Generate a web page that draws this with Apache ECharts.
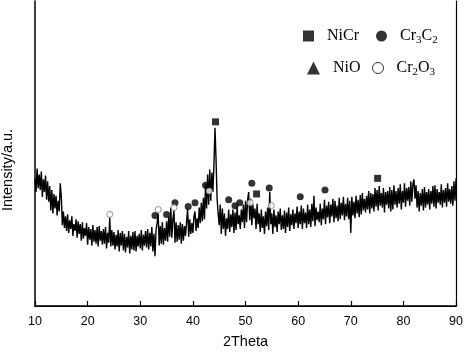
<!DOCTYPE html>
<html>
<head>
<meta charset="utf-8">
<script src="https://cdn.jsdelivr.net/npm/echarts@6/dist/echarts.min.js"></script>
<style>
  html, body { margin: 0; padding: 0; background: #fff; }
  #xrd { width: 466px; height: 354px; }
</style>
</head>
<body>
<div id="xrd"></div>
<script>
    // XRD scan, 2Theta from 10 to 90 in 0.2 deg steps (a.u.)
    var scanStart = 10;
    var scanStep = 0.2;
    var intensity = [
        131, 117, 141, 121, 135,   119, 138, 112, 130, 117,   // 10-11
        134, 109, 128, 107, 123,   98, 119, 95, 115, 100,     // 12-13
        113, 93, 108, 97, 126,     112, 83, 97, 80, 92,       // 14-15
        77, 94, 75, 88, 79,        92, 72, 84, 77, 89,        // 16-17
        70, 87, 74, 84, 67,        86, 69, 80, 72, 85,        // 18-19
        63, 81, 68, 79, 62,        83, 66, 78, 64, 81,        // 20-21
        61, 82, 67, 77, 63,        79, 64, 81, 59, 75,        // 22-23
        65, 91, 61, 78, 62,        76, 58, 73, 61, 78,        // 24-25
        56, 75, 62, 77, 57,        74, 55, 71, 60, 77,        // 26-27
        54, 72, 58, 76, 57,        77, 56, 72, 61, 74,        // 28-29
        59, 78, 57, 73, 62,        77, 60, 79, 58, 75,        // 30-31
        61, 81, 56, 74, 51,        78, 85, 95, 62, 82,        // 32-33
        64, 86, 63, 80, 67,        87, 66, 92, 71, 101,       // 34-35
        70, 89, 98, 65, 86,        66, 83, 68, 86, 64,        // 36-37
        84, 67, 82, 72, 86,        100, 71, 89, 74, 85,       // 38-39
        75, 92, 97, 77, 90,        80, 101, 85, 106, 87,      // 40-41
        111, 89, 125, 100, 135,    104, 140, 108, 137, 117,   // 42-43
        145, 183, 150, 110, 95,    83, 104, 74, 100, 79,      // 44-45
        95, 72, 90, 79, 99,        76, 94, 81, 99, 75,        // 46-47
        96, 78, 102, 84, 93,       79, 99, 86, 104, 80,       // 48-49
        108, 86, 109, 117, 88,     110, 83, 104, 90, 100,     // 50-51
        79, 105, 84, 95, 76,       99, 80, 92, 74, 97,        // 52-53
        82, 101, 78, 117, 84,      95, 74, 99, 81, 93,        // 54-55
        76, 97, 84, 100, 78,       93, 79, 98, 75, 96,        // 56-57
        81, 101, 77, 94, 83,       99, 79, 95, 85, 102,       // 58-59
        80, 97, 84, 103, 79,       100, 85, 96, 80, 104,      // 60-61
        84, 99, 81, 105, 87,       113, 82, 101, 88, 97,      // 62-63
        86, 105, 83, 100, 89,      109, 84, 103, 91, 107,     // 64-65
        85, 104, 92, 110, 86,      108, 90, 103, 87, 111,     // 66-67
        89, 106, 93, 112, 88,      105, 92, 111, 89, 108,     // 68-69
        75, 112, 93, 107, 90,      113, 95, 109, 91, 114,     // 70-71
        94, 116, 98, 110, 96,      113, 99, 118, 95, 116,     // 72-73
        100, 115, 97, 121, 102,    119, 98, 123, 103, 116,    // 74-75
        101, 121, 96, 117, 104,    118, 100, 122, 97, 119,    // 76-77
        99, 124, 104, 118, 101,    121, 105, 125, 99, 118,    // 78-79
        106, 126, 102, 121, 108,   122, 103, 128, 107, 125,   // 80-81
        130, 110, 124, 101, 118,   97, 116, 103, 120, 98,     // 82-83
        122, 101, 117, 104, 120,   99, 118, 105, 123, 102,    // 84-85
        124, 100, 120, 106, 117,   104, 125, 101, 119, 106,   // 86-87
        121, 102, 126, 107, 120,   105, 123, 103, 128, 108,   // 88-89
        131                                                   // 90
    ];

    // phase markers [2Theta, height]
    var nicrMarks = [[44.3, 189], [52.1, 115], [75.1, 131]];
    var cr3c2Marks = [[32.8, 93], [35.0, 94], [36.6, 106], [39.1, 102], [40.4, 106], [42.4, 124],
        [46.8, 109], [48.0, 103], [48.9, 106], [51.2, 126], [54.5, 121], [60.4, 112], [65.1, 119]];
    var nioMarks = [];
    var cr2o3Marks = [[24.2, 94], [33.4, 99], [36.4, 101], [43.1, 118], [50.9, 106], [54.9, 103]];

    var xMin = 10, xMax = 90, xStep = 10;

    var scan = [];
    for (var i = 0; i < intensity.length; i++) {
        scan.push([+(scanStart + i * scanStep).toFixed(2), intensity[i]]);
    }

    var legendText = {
        fontFamily: 'Liberation Serif',
        fontSize: 16,
        color: '#000',
        padding: [0, 0, 0, 8],
        rich: {
            sub: {fontFamily: 'Liberation Serif', fontSize: 11, color: '#000', padding: [9, 0, 0, 0]}
        }
    };
    function subs(name) {
        return name.replace(/(\d)/g, '{sub|$1}');
    }
    function oneLegend(name, left, top, size, style) {
        return {
            data: [{name: name, itemStyle: style || {color: '#000', borderColor: '#000'}}],
            left: left,
            top: top,
            itemWidth: size,
            itemHeight: size,
            padding: 0,
            selectedMode: false,
            formatter: subs,
            textStyle: legendText
        };
    }

    let myChart = echarts.init(document.getElementById('xrd'));
    myChart.setOption({
        animation: false,
        backgroundColor: '#fff',
        grid: {left: 35, right: 7, top: 1, bottom: 41},
        legend: [
            oneLegend('NiCr', 303, 28, 11),
            oneLegend('Cr3C2', 376, 28, 11),
            oneLegend('NiO', 307, 60, 13),
            oneLegend('Cr2O3', 372, 60, 11, {color: '#fff', borderColor: '#000', borderWidth: 1})
        ],
        graphic: [{
            type: 'text',
            x: 8,
            y: 170,
            rotation: Math.PI / 2,
            style: {
                text: 'Intensity/a.u.',
                fontFamily: 'Liberation Sans',
                fontSize: 14.5,
                fill: '#000',
                align: 'center',
                verticalAlign: 'middle'
            }
        }],
        xAxis: [{
            type: 'value',
            min: xMin,
            max: xMax,
            interval: xStep,
            name: '2Theta',
            nameLocation: 'middle',
            nameGap: 28,
            nameTextStyle: {fontFamily: 'Liberation Sans', fontSize: 14.5, color: '#000'},
            axisLine: {lineStyle: {color: '#000', width: 1.5}},
            axisTick: {inside: true, length: 5, lineStyle: {color: '#000', width: 1.2}},
            axisLabel: {fontFamily: 'Liberation Sans', fontSize: 12.5, color: '#000', margin: 9},
            splitLine: {show: false}
        }, {
            type: 'value',
            position: 'top',
            min: xMin,
            max: xMax,
            axisLine: {lineStyle: {color: '#000', width: 1.2}},
            axisTick: {show: false},
            axisLabel: {show: false},
            splitLine: {show: false}
        }],
        yAxis: [{
            type: 'value',
            min: 0,
            max: 313,
            axisLine: {show: true, lineStyle: {color: '#000', width: 1.5}},
            axisTick: {show: false},
            axisLabel: {show: false},
            splitLine: {show: false}
        }, {
            type: 'value',
            position: 'right',
            min: 0,
            max: 313,
            axisLine: {show: true, lineStyle: {color: '#000', width: 1.2}},
            axisTick: {show: false},
            axisLabel: {show: false},
            splitLine: {show: false}
        }],
        series: [{
            name: 'scan',
            type: 'line',
            data: scan,
            showSymbol: false,
            lineStyle: {color: '#000', width: 1.4},
            z: 2
        }, {
            name: 'NiCr',
            type: 'scatter',
            symbol: 'rect',
            symbolSize: 7,
            data: nicrMarks,
            itemStyle: {color: '#000'},
            z: 3
        }, {
            name: 'Cr3C2',
            type: 'scatter',
            symbol: 'circle',
            symbolSize: 7,
            data: cr3c2Marks,
            itemStyle: {color: '#000'},
            z: 3
        }, {
            name: 'NiO',
            type: 'scatter',
            symbol: 'triangle',
            symbolSize: 8,
            data: nioMarks,
            itemStyle: {color: '#000'},
            z: 3
        }, {
            name: 'Cr2O3',
            type: 'scatter',
            symbol: 'circle',
            symbolSize: 6,
            data: cr2o3Marks,
            itemStyle: {color: '#fff', borderColor: '#777', borderWidth: 1},
            z: 3
        }]
    });
</script>
</body>
</html>
